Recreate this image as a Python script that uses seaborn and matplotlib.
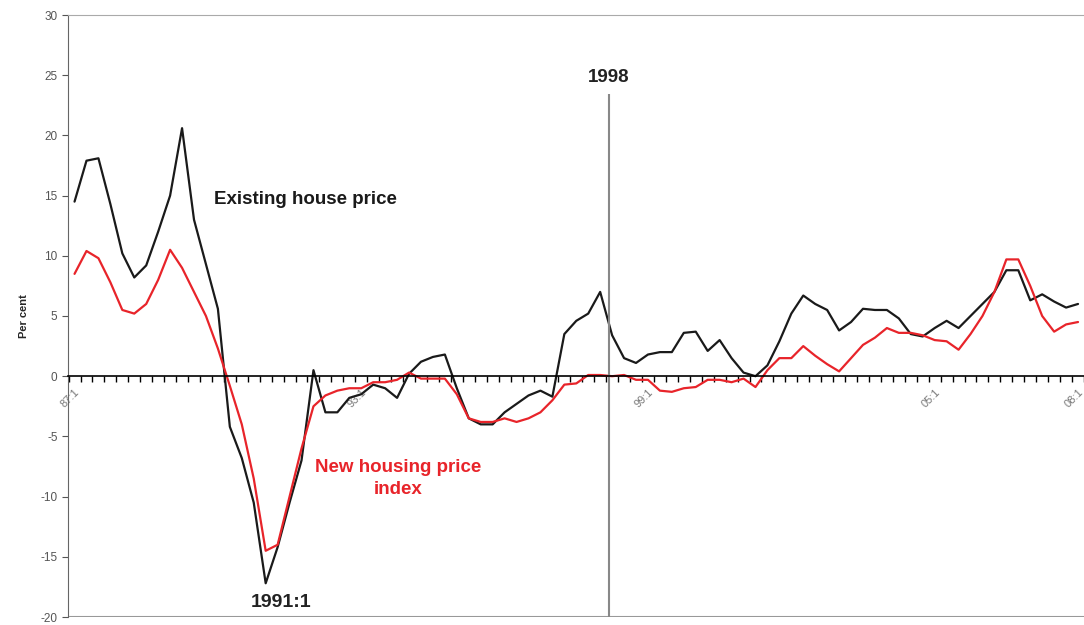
import pandas as pd
import matplotlib.pyplot as plt
import seaborn as sns

# Quarterly y/y changes, 87:1 to 08:1
quarters = [f"{y % 100:02d}:{q}" for y in range(1987, 2009) for q in range(1, 5)][:85]

existing = [14.5, 17.9, 18.1, 14.3, 10.2, 8.2, 9.2, 12.0, 15.0, 20.6,
            13.0, 9.3, 5.6, -4.2, -6.8, -10.5, -17.2, -14.2, -10.5, -7.0,
            0.5, -3.0, -3.0, -1.8, -1.5, -0.7, -1.0, -1.8, 0.2, 1.2,
            1.6, 1.8, -1.0, -3.5, -4.0, -4.0, -3.0, -2.3, -1.6, -1.2,
            -1.7, 3.5, 4.6, 5.2, 7.0, 3.4, 1.5, 1.1, 1.8, 2.0,
            2.0, 3.6, 3.7, 2.1, 3.0, 1.5, 0.3, 0.0, 0.9, 2.9,
            5.2, 6.7, 6.0, 5.5, 3.8, 4.5, 5.6, 5.5, 5.5, 4.8,
            3.5, 3.3, 4.0, 4.6, 4.0, 5.0, 6.0, 7.0, 8.8, 8.8,
            6.3, 6.8, 6.2, 5.7, 6.0]

new_housing = [8.5, 10.4, 9.8, 7.8, 5.5, 5.2, 6.0, 8.0, 10.5, 9.0,
               7.0, 5.0, 2.3, -0.8, -4.0, -8.5, -14.5, -14.0, -10.0, -6.0,
               -2.5, -1.6, -1.2, -1.0, -1.0, -0.5, -0.5, -0.3, 0.3, -0.2,
               -0.2, -0.2, -1.5, -3.5, -3.8, -3.8, -3.5, -3.8, -3.5, -3.0,
               -2.0, -0.7, -0.6, 0.1, 0.1, 0.0, 0.1, -0.3, -0.3, -1.2,
               -1.3, -1.0, -0.9, -0.3, -0.3, -0.5, -0.2, -0.9, 0.5, 1.5,
               1.5, 2.5, 1.7, 1.0, 0.4, 1.5, 2.6, 3.2, 4.0, 3.6,
               3.6, 3.4, 3.0, 2.9, 2.2, 3.5, 5.0, 7.0, 9.7, 9.7,
               7.5, 5.0, 3.7, 4.3, 4.5]

tick_labels = ["87:1", "93:1", "99:1", "05:1", "08:1"]

df = pd.DataFrame({'idx': range(len(quarters)), 'quarter': quarters,
                   'existing': existing, 'new': new_housing})

sns.set_style('white')
plt.rcParams['font.family'] = ['Liberation Sans', 'DejaVu Sans']
plt.rcParams['axes.unicode_minus'] = False

fig = plt.figure(figsize=(10.84, 6.25), dpi=100)
ax = fig.add_axes([0.0627, 0.0128, 0.9373, 0.9632])

sns.lineplot(data=df, x='idx', y='existing', color='#1a1a1a', linewidth=1.6, ax=ax)
sns.lineplot(data=df, x='idx', y='new', color='#e8242a', linewidth=1.6, ax=ax)

ax.set_xlim(-0.55, 83.95)
ax.set_ylim(-20, 30)
ax.set_yticks(range(-20, 31, 5))
ax.tick_params(axis='y', labelsize=8.5, labelcolor='#555555', length=4, color='#555555', direction='out', left=True)

# x axis sits on the zero line, with a tick between every quarter
ax.spines['bottom'].set_position(('data', 0))
ax.spines['bottom'].set_color('black')
ax.spines['bottom'].set_linewidth(1.2)
ax.spines['left'].set_color('#666666')
ax.spines['top'].set_color('#aaaaaa')
ax.spines['right'].set_visible(False)
ax.axhline(-20, color='#999999', linewidth=1.5)

label_pos = [quarters.index(t) for t in tick_labels]
ax.set_xticks(label_pos)
ax.set_xticklabels(tick_labels, rotation=45, ha='right', rotation_mode='anchor',
                   fontsize=8, color='#777777')
ax.set_xticks([i - 0.5 for i in range(len(quarters) + 1)], minor=True)
ax.tick_params(axis='x', which='major', length=0, pad=8, bottom=True)
ax.tick_params(axis='x', which='minor', length=4, width=1, color='black', direction='out', bottom=True)

ax.set_xlabel('')
ax.set_ylabel('Per cent', fontsize=8, fontweight='bold', labelpad=8)

# 1998 marker
i98 = quarters.index("98:1") + 0.7
ax.vlines(i98, -20, 23.4, color='#888888', linewidth=1.5)
ax.text(i98, 24.8, '1998', ha='center', va='center', fontsize=13.5, fontweight='bold', color='#222222')

ax.text(19.3, 14.7, 'Existing house price', ha='center', va='center', fontsize=13.5, fontweight='bold', color='#1a1a1a')
ax.text(27.1, -8.5, 'New housing price\nindex', ha='center', va='center', fontsize=13.5, fontweight='bold',
        color='#e8242a', linespacing=1.45)
ax.text(17.3, -18.8, '1991:1', ha='center', va='center', fontsize=14, fontweight='bold', color='#222222')

plt.savefig('out.png', dpi=100)
